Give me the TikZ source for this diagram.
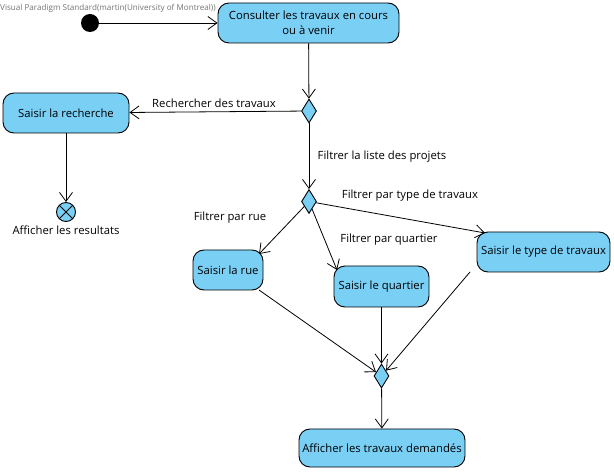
\documentclass[tikz,border=0pt]{standalone}
\usepackage{fontspec}
\setmainfont{Open Sans}
\usetikzlibrary{arrows.meta,shapes.geometric,shapes.misc}
\definecolor{actfill}{RGB}{122,207,245}
\begin{document}
\begin{tikzpicture}[x=1pt,y=-1pt,
  every node/.style={font=\fontsize{11.3}{15}\selectfont},
  act/.style={draw=black,line width=0.9pt,fill=actfill,rounded corners=11pt,inner sep=0pt,align=center},
  dec/.style={draw=black,line width=0.9pt,fill=actfill,diamond,inner sep=0pt,minimum width=15pt,minimum height=24pt,aspect=0.6},
  lbl/.style={inner sep=0pt},
  flow/.style={draw=black,line width=0.8pt,-{Straight Barb[length=9pt,width=13pt,line width=0.8pt]}},
  plain/.style={draw=black,line width=0.8pt}
]
\useasboundingbox (0,0) rectangle (614,473);
\node[lbl,anchor=west,text=black!55,font=\fontsize{8.1}{10}\selectfont] (hdr) at (0,8) {Visual Paradigm Standard(martin(University of Montreal))};
\node[circle,fill=black,minimum size=18pt,inner sep=0pt] (init) at (90,23) {};
\node[act,minimum width=181pt,minimum height=40pt] (consult) at (308.5,23) {Consulter les travaux en cours\\ou à venir};
\node[dec] (d1) at (309,111) {};
\node[act,minimum width=126pt,minimum height=40pt] (rech) at (66,113) {Saisir la recherche};
\node[circle,draw=black,line width=0.9pt,fill=actfill,minimum size=19pt,inner sep=0pt] (fin) at (66,212) {};
\draw[line width=0.9pt] (fin.north east) -- (fin.south west) (fin.north west) -- (fin.south east);
\node[lbl] (finlbl) at (66,230) {Afficher les resultats};
\node[dec] (d2) at (309,201.5) {};
\node[act,minimum width=70pt,minimum height=40pt] (rue) at (228,270) {Saisir la rue};
\node[act,minimum width=95pt,minimum height=41pt] (quart) at (381.5,286.5) {Saisir le quartier};
\node[act,minimum width=133pt,minimum height=40pt] (type) at (543.5,252) {Saisir le type de travaux};
\node[dec] (d3) at (381.5,376) {};
\node[act,minimum width=166pt,minimum height=38pt] (aff) at (382,448) {Afficher les travaux demandés};

\node[lbl] (l1) at (214,103) {Rechercher des travaux};
\node[lbl] (l2) at (382,157) {Filtrer la liste des projets};
\node[lbl] (l3) at (230,218) {Filtrer par rue};
\node[lbl] (l4) at (389,240) {Filtrer par quartier};
\node[lbl] (l5) at (410,196) {Filtrer par type de travaux};

\coordinate (rueIn) at (259,254);
\coordinate (quartIn) at (337,270);
\coordinate (typeIn) at (485,233);
\coordinate (rueOut) at (259,290);
\coordinate (typeOut) at (470,272);

\draw[flow] (init) -- (consult);
\draw[flow] (consult) -- (d1);
\draw[flow] (d1) -- (rech);
\draw[flow] (rech) -- (fin);
\draw[flow] (d1) -- (d2);
\draw[flow] (d2) -- (rueIn);
\draw[flow] (d2) -- (quartIn);
\draw[flow] (d2) -- (typeIn);
\draw[flow] (rueOut) -- (d3);
\draw[flow] (quart) -- (d3);
\draw[flow] (typeOut) -- (d3);
\draw[flow] (d3) -- (aff);
\end{tikzpicture}
\end{document}
